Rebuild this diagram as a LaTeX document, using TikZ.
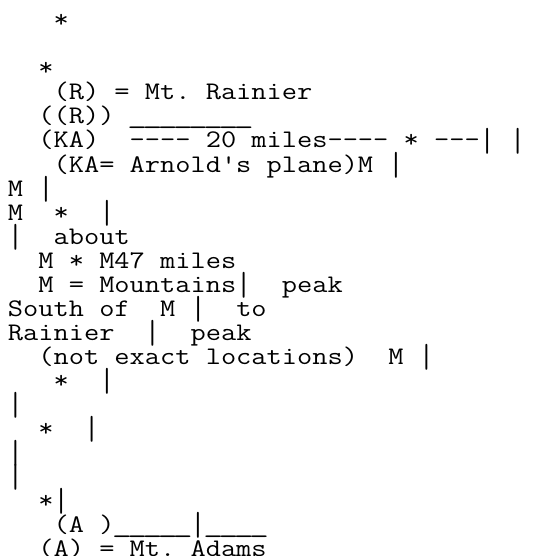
\documentclass[tikz,border=0pt]{standalone}
\usepackage{fontspec}
\usepackage{graphicx}
\newfontfamily\asciifont[FakeStretch=1.168]{Latin Modern Mono}
\tikzset{
  ascii/.style={anchor=base west,inner sep=0pt,outer sep=0pt,text=black,font=\asciifont\fontsize{25.3}{24}\selectfont\frenchspacing},
}
% \asciiline{node name}{line number}{first column}{text}
\newcommand\asciiline[4]{\node[ascii] (#1) at ({8.0+15.2*#3},{-(28+24*#2)}) {#4};}
% a tall bar and a joined-up underscore, both in one character cell
\newcommand\asciibar{\raisebox{-3.4pt}{\scalebox{1}[1.32]{|}}}
\newcommand\asciius{\makebox[15.2pt][c]{\scalebox{1.3}[1]{\_}}}
\begin{document}
\begin{tikzpicture}[x=1pt,y=1pt]
\path[use as bounding box,fill=white] (0,0) rectangle (547,-556);
\clip (0,0) rectangle (547,-556);
\asciiline{a0}{0}{3}{*}
\asciiline{a2}{2}{2}{*}
\asciiline{a3}{3}{3}{(R) = Mt. Rainier}
\asciiline{a4}{4}{2}{((R)) \asciius\asciius\asciius\asciius\asciius\asciius\asciius\asciius}
\asciiline{a5}{5}{2}{(KA)~ ---{}- 20 miles---{}- * ---{}\asciibar{} \asciibar}
\asciiline{a6}{6}{3}{(KA= Arnold's plane)M \asciibar}
\asciiline{a7}{7}{0}{M \asciibar}
\asciiline{a8}{8}{0}{M~ *~ \asciibar}
\asciiline{a9}{9}{0}{\asciibar{}~ about}
\asciiline{a10}{10}{2}{M * M47 miles}
\asciiline{a11}{11}{2}{M = Mountains\asciibar{}~ peak}
\asciiline{a12}{12}{0}{South of~ M \asciibar{}~ to}
\asciiline{a13}{13}{0}{Rainier~ \asciibar{}~ peak}
\asciiline{a14}{14}{2}{(not exact locations)~ M \asciibar}
\asciiline{a15}{15}{3}{*~ \asciibar}
\asciiline{a16}{16}{0}{\asciibar}
\asciiline{a17}{17}{2}{*~ \asciibar}
\asciiline{a18}{18}{0}{\asciibar}
\asciiline{a19}{19}{0}{\asciibar}
\asciiline{a20}{20}{2}{*\asciibar}
\asciiline{a21}{21}{3}{(A )\asciius\asciius\asciius\asciius\asciius\asciibar\asciius\asciius\asciius\asciius}
\asciiline{a22}{22}{2}{(A) = Mt. Adams}
\end{tikzpicture}
\end{document}
